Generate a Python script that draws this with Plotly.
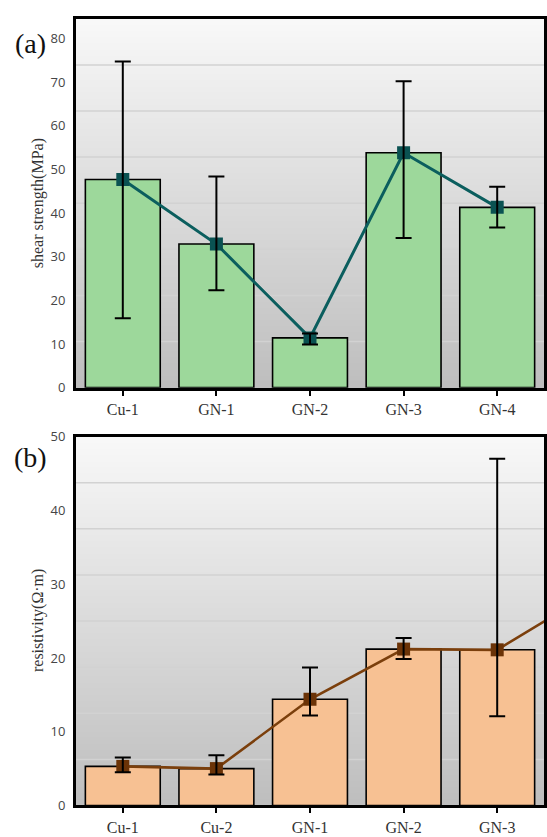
import plotly.graph_objects as go

# ---------------- data ----------------
cats_a = ["Cu-1", "GN-1", "GN-2", "GN-3", "GN-4"]
shear = [47.7, 32.9, 11.4, 53.8, 41.3]
shear_hi = [74.7, 48.4, 12.4, 70.2, 46.0]
shear_lo = [15.9, 22.3, 9.9, 34.3, 36.7]

cats_b = ["Cu-1", "Cu-2", "GN-1", "GN-2", "GN-3"]
resist = [5.3, 5.0, 14.4, 21.2, 21.1]
resist_hi = [6.5, 6.8, 18.7, 22.7, 47.0]
resist_lo = [4.5, 4.2, 12.2, 19.85, 12.1]
# line continues toward a further (cropped) sample beyond the right edge
resist_line_extra = 28.8

W, H = 547, 837
X0, X1 = 76, 544
A_TOP, A_BOT = 10, 387
B_TOP, B_BOT = 437, 814


def py(px):
    return 1 - px / H


fig = go.Figure()

xa = list(range(len(cats_a)))
xb = list(range(len(cats_b)))

# panel (a)
fig.add_trace(go.Bar(x=xa, y=shear, width=0.8, marker=dict(color="#9dd89b", line=dict(color="black", width=1.6)),
                     xaxis="x", yaxis="y", showlegend=False))
fig.add_trace(go.Scatter(x=xa, y=shear, mode="lines+markers",
                         line=dict(color="#0b5e5e", width=3),
                         marker=dict(symbol="square", size=13, color="#0a5252"),
                         xaxis="x", yaxis="y", showlegend=False))
fig.add_trace(go.Scatter(x=xa, y=shear, mode="markers", marker=dict(size=1, opacity=0),
                         error_y=dict(type="data", symmetric=False,
                                      array=[h - v for h, v in zip(shear_hi, shear)],
                                      arrayminus=[v - l for l, v in zip(shear_lo, shear)],
                                      color="black", thickness=2, width=8),
                         xaxis="x", yaxis="y", showlegend=False))

# panel (b)
fig.add_trace(go.Bar(x=xb, y=resist, width=0.8, marker=dict(color="#f7c193", line=dict(color="black", width=1.6)),
                     xaxis="x2", yaxis="y2", showlegend=False))
fig.add_trace(go.Scatter(x=xb + [len(xb)], y=resist + [resist_line_extra], mode="lines+markers",
                         line=dict(color="#7b3f0c", width=2.6),
                         marker=dict(symbol="square", size=13, color="#6b3307"),
                         xaxis="x2", yaxis="y2", showlegend=False))
fig.add_trace(go.Scatter(x=xb, y=resist, mode="markers", marker=dict(size=1, opacity=0),
                         error_y=dict(type="data", symmetric=False,
                                      array=[h - v for h, v in zip(resist_hi, resist)],
                                      arrayminus=[v - l for l, v in zip(resist_lo, resist)],
                                      color="black", thickness=2, width=8),
                         xaxis="x2", yaxis="y2", showlegend=False))

# background gradient + decorative grid lines
shapes = []
N = 60
top_c = (248, 248, 248)
bot_c = (190, 190, 190)
for xr, yr in (("x domain", "y domain"), ("x2 domain", "y2 domain")):
    for i in range(N):
        t = (i + 0.5) / N
        c = tuple(round(top_c[k] + (bot_c[k] - top_c[k]) * t) for k in range(3))
        shapes.append(dict(type="rect", xref=xr, yref=yr, x0=0, x1=1,
                           y0=1 - (i + 1) / N - 0.002, y1=1 - i / N,
                           fillcolor="rgb(%d,%d,%d)" % c, line=dict(width=0), layer="below"))
    for j in range(1, 8):
        shapes.append(dict(type="line", xref=xr, yref=yr, x0=0, x1=1, y0=j / 8, y1=j / 8,
                           line=dict(color="#d2d2d2", width=1.5), layer="below"))

tickfont = dict(family="Open Sans", size=13, color="#454545")
xfont = dict(family="Liberation Serif", size=16, color="#333333")

axis_common = dict(showline=True, linecolor="black", linewidth=3, mirror=True,
                   showgrid=False, zeroline=False)

fig.update_layout(
    width=W, height=H,
    margin=dict(l=0, r=0, t=0, b=0),
    paper_bgcolor="white", plot_bgcolor="rgba(0,0,0,0)",
    bargap=0.2,
    shapes=shapes,
    xaxis=dict(domain=[X0 / W, X1 / W], anchor="y", range=[-0.5, 4.5],
               tickmode="array", tickvals=xa, ticktext=cats_a, tickfont=xfont,
               ticks="outside", ticklen=5, tickwidth=2, tickcolor="black", **axis_common),
    yaxis=dict(domain=[py(A_BOT), py(A_TOP)], anchor="x", range=[0, 84.5],
               tickmode="linear", tick0=0, dtick=10, tickfont=tickfont,
               ticks="", ticklabelstandoff=5, **axis_common),
    xaxis2=dict(domain=[X0 / W, X1 / W], anchor="y2", range=[-0.5, 4.5],
                tickmode="array", tickvals=xb, ticktext=cats_b, tickfont=xfont,
                ticks="outside", ticklen=5, tickwidth=2, tickcolor="black", **axis_common),
    yaxis2=dict(domain=[py(B_BOT), py(B_TOP)], anchor="x2", range=[0, 50],
                tickmode="linear", tick0=0, dtick=10, tickfont=tickfont,
                ticks="", ticklabelstandoff=5, **axis_common),
    annotations=[
        dict(text="(a)", x=30 / W, y=py(35), xref="paper", yref="paper", showarrow=False,
             xanchor="center", yanchor="middle",
             font=dict(family="Liberation Serif", size=28, color="#111111")),
        dict(text="(b)", x=30 / W, y=py(458), xref="paper", yref="paper", showarrow=False,
             xanchor="center", yanchor="middle",
             font=dict(family="Liberation Serif", size=28, color="#111111")),
        dict(text="shear strength(MPa)", x=38 / W, y=py((A_TOP + A_BOT) / 2), xref="paper", yref="paper",
             showarrow=False, textangle=-90, xanchor="center", yanchor="middle",
             font=dict(family="Liberation Serif", size=16, color="#333333")),
        dict(text="resistivity(Ω·m)", x=38 / W, y=py((B_TOP + B_BOT) / 2), xref="paper", yref="paper",
             showarrow=False, textangle=-90, xanchor="center", yanchor="middle",
             font=dict(family="Liberation Serif", size=16, color="#333333")),
    ],
)

fig.write_html("out.html", config={"displayModeBar": False},
               post_script="document.body.style.margin='0';document.body.style.overflow='hidden';")
